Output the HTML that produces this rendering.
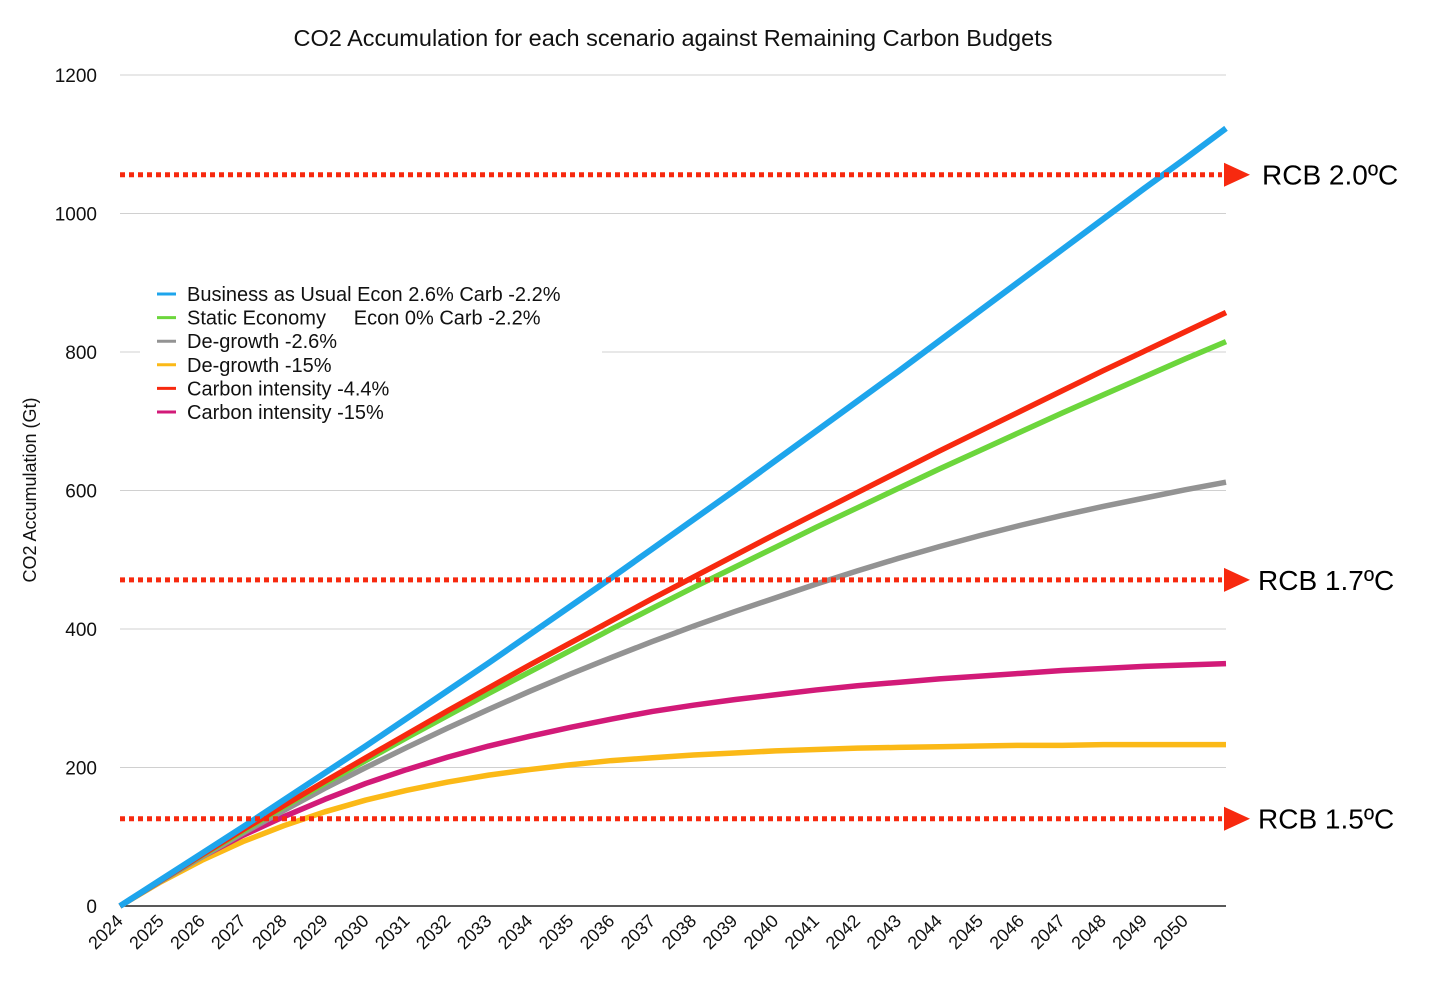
<!DOCTYPE html>
<html><head><meta charset="utf-8"><style>
body{margin:0;background:#fff;}
svg{display:block;font-family:"Liberation Sans",Arial,sans-serif;}
</style></head><body>
<svg id="chart" width="1440" height="1008">
<text x="673" y="46" font-size="23.5" text-anchor="middle" fill="#111">CO2 Accumulation for each scenario against Remaining Carbon Budgets</text>
<g id="grid"></g><g id="lines"></g><g id="rcb"></g><g id="legend"></g>
</svg>
<script>
const years=[2024,2025,2026,2027,2028,2029,2030,2031,2032,2033,2034,2035,2036,2037,2038,2039,2040,2041,2042,2043,2044,2045,2046,2047,2048,2049,2050,2051];
const yTicks=[0,200,400,600,800,1000,1200];
const bau=[0,38,76,114,153,192,231,271,311,351,392,433,474,516,558,600,643,686,729,772,816,860,904,948,992,1036,1079,1123];
const staticEcon=[0,37,73,108,143,177,210,243,275,307,338,369,400,430,460,489,518,547,575,603,631,658,685,712,738,764,790,815];
const degrowth26=[0,36,71,105,138,170,200,229,257,284,310,335,359,382,404,425,445,465,484,502,519,535,550,564,577,589,601,612];
const degrowth15=[0,35,66,93,116,136,153,167,179,189,197,204,210,214,218,221,224,226,228,229,230,231,232,232,233,233,233,233];
const carbon44=[0,37,74,110,145,180,214,248,282,315,348,380,412,444,475,506,537,567,597,627,657,686,715,744,773,801,829,857];
const carbon15=[0,37,71,102,129,154,177,197,215,231,245,258,270,281,290,298,305,312,318,323,328,332,336,340,343,346,348,350];
const budgets=[1056,471,126];
const budgetLabels=["RCB 2.0ºC","RCB 1.7ºC","RCB 1.5ºC"];
const seriesNames=["Business as Usual Econ 2.6% Carb -2.2%","Static Economy     Econ 0% Carb -2.2%","De-growth -2.6%","De-growth -15%","Carbon intensity -4.4%","Carbon intensity -15%"];
const NS="http://www.w3.org/2000/svg";
const X0=120,X1=1226,Y0=906,Y1=75;
const x=i=>X0+(X1-X0)*i/(years.length-1);
const y=v=>Y0-(Y0-Y1)*v/1200;
function mk(t,a,p){const e=document.createElementNS(NS,t);for(const k in a)e.setAttribute(k,a[k]);p.appendChild(e);return e;}
const grid=document.getElementById('grid');
yTicks.forEach(t=>{
 const l=mk('line',{x1:X0,x2:X1,y1:y(t),y2:y(t),stroke:t===0?'#222':'#d0d0d0','stroke-width':t===0?1.5:1},grid);
 
 
 const tx=mk('text',{x:97,y:y(t)+7,'font-size':19,'text-anchor':'end',fill:'#111'},grid);tx.textContent=t;
 
 
});
years.slice(0,27).forEach((yr,i)=>{
 const tx=mk('text',{x:x(i)+4,y:Y0+16,'font-size':18,'text-anchor':'end',fill:'#111',transform:`rotate(-45 ${x(i)+4} ${Y0+16})`},grid);tx.textContent=yr;
 
 
});
const yt=mk('text',{x:36,y:490,'font-size':18,'text-anchor':'middle',fill:'#111',transform:'rotate(-90 36 490)'},grid);yt.textContent='CO2 Accumulation (Gt)';


const colors=['#1ea5ec','#6cd63c','#939393','#fbb917','#f7290f','#d21a78'];
const data=[bau,staticEcon,degrowth26,degrowth15,carbon44,carbon15];
const order=[3,5,2,1,4,0];
const lines=document.getElementById('lines');
order.forEach(s=>{
 const p=mk('polyline',{points:data[s].map((v,i)=>x(i)+','+y(v)).join(' '),fill:'none',stroke:colors[s],'stroke-width':s===0?6:5.5,'stroke-linejoin':'round'},lines);
 
 
});
const rcb=document.getElementById('rcb');
budgets.forEach((b,k)=>{
 const l=mk('line',{x1:X0,x2:1222,y1:y(b),y2:y(b),stroke:'#f7290f','stroke-width':5,'stroke-dasharray':'5,4'},rcb);
 
 
 const yy=y(b);
 const tr=mk('polygon',{points:`1224,${yy-12} 1250,${yy} 1224,${yy+12}`,fill:'#f7290f'},rcb);
 
 
 const t=mk('text',{x:k===0?1262:1258,y:yy+10,'font-size':28,fill:'#000'},rcb);t.textContent=budgetLabels[k];
 
 
});
const lg=document.getElementById('legend');
const bg=mk('rect',{x:140,y:278,width:462,height:148,fill:'#fff'},lg);


seriesNames.forEach((n,i)=>{
 const yy=294+i*23.6;
 const l=mk('line',{x1:157,x2:176,y1:yy,y2:yy,stroke:colors[i],'stroke-width':3},lg);
 
 
 const t=mk('text',{x:187,y:yy+7,'font-size':20,fill:'#111'},lg);t.textContent=n;t.style.whiteSpace='pre';
 
 
});
</script>
</body></html>
